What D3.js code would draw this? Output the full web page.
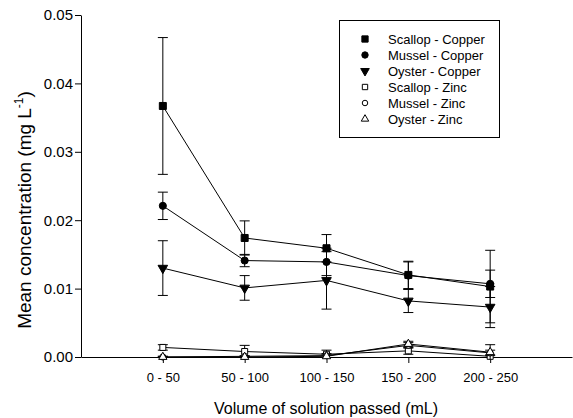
<!DOCTYPE html>
<html><head><meta charset="utf-8">
<script src="https://cdn.jsdelivr.net/npm/d3@7"></script>
<style>body{margin:0;background:#fff}svg{display:block}text{font-family:"Liberation Sans",Arial,sans-serif}</style>
</head><body>
<svg id="c" width="573" height="418"></svg>
<script>
const categories = ["0 - 50", "50 - 100", "100 - 150", "150 - 200", "200 - 250"];
const seriesNames = ["Scallop - Copper", "Mussel - Copper", "Oyster - Copper", "Scallop - Zinc", "Mussel - Zinc", "Oyster - Zinc"];
const scallopCu = [0.0367, 0.0174, 0.0159, 0.0120, 0.0103];
const scallopCuErr = [0.0100, 0.0025, 0.0020, 0.0020, 0.0053];
const musselCu = [0.0221, 0.0141, 0.0139, 0.0119, 0.0107];
const musselCuErr = [0.0020, 0.0009, 0.0020, 0.0020, 0.0020];
const oysterCu = [0.0130, 0.0101, 0.0112, 0.0082, 0.0073];
const oysterCuErr = [0.0040, 0.0018, 0.0042, 0.0017, 0.0030];
const scallopZn = [0.0014, 0.0008, 0.0004, 0.0009, 0.0001];
const scallopZnErr = [0.0004, 0.0009, 0.0006, 0.0005, 0.0002];
const musselZn = [0.0000, 0.0001, 0.0002, 0.0017, 0.0006];
const musselZnErr = [0.0001, 0.0001, 0.0003, 0.0004, 0.0004];
const oysterZn = [0.0000, 0.0000, 0.0001, 0.0019, 0.0007];
const oysterZnErr = [0.0001, 0.0001, 0.0002, 0.0004, 0.0011];
const yTicks = [0, 0.01, 0.02, 0.03, 0.04, 0.05];

const series = [
  {name: seriesNames[3], v: scallopZn, e: scallopZnErr, sym: d3.symbolSquare, fill: "#fff", size: 36},
  {name: seriesNames[4], v: musselZn, e: musselZnErr, sym: d3.symbolCircle, fill: "#fff", size: 30},
  {name: seriesNames[5], v: oysterZn, e: oysterZnErr, sym: d3.symbolTriangle, fill: "#fff", size: 30, rot: 0},
  {name: seriesNames[0], v: scallopCu, e: scallopCuErr, sym: d3.symbolSquare, fill: "#000", size: 49},
  {name: seriesNames[1], v: musselCu, e: musselCuErr, sym: d3.symbolCircle, fill: "#000", size: 40},
  {name: seriesNames[2], v: oysterCu, e: oysterCuErr, sym: d3.symbolTriangle, fill: "#000", size: 40, rot: 180}
];

const svg = d3.select("#c");
const x = d3.scalePoint().domain(["", ...categories, " "]).range([81, 572]);
const y = d3.scaleLinear().domain([0, 0.05]).range([357, 15]);

// axes
const yAxis = svg.append("g").attr("transform", "translate(81,0)")
  .call(d3.axisLeft(y).tickValues(yTicks).tickFormat(d3.format(".2f")).tickSize(6).tickSizeOuter(0));
yAxis.selectAll("text").attr("font-size", 15).attr("x", -8).style("font-family", "Liberation Sans, Arial, sans-serif");
const xAxis = svg.append("g").attr("transform", "translate(0,357)")
  .call(d3.axisBottom(x).tickValues(categories).tickSize(6).tickSizeOuter(0).tickPadding(10));
xAxis.selectAll("text").attr("font-size", 13).style("font-family", "Liberation Sans, Arial, sans-serif");
svg.selectAll(".domain").attr("stroke", "#000");
svg.selectAll(".tick line").attr("stroke", "#000");

// labels
svg.append("text").attr("transform", "translate(31,210) rotate(-90)").attr("text-anchor", "middle")
  .attr("font-size", 19).html('Mean concentration (mg L<tspan dy="-8" font-size="12">-1</tspan><tspan dy="8">)</tspan>');
svg.append("text").attr("x", 326).attr("y", 414).attr("text-anchor", "middle").attr("font-size", 16)
  .text("Volume of solution passed (mL)");

const line = d3.line().x((d, i) => x(categories[i])).y(d => y(d));
series.forEach(s => {
  const g = svg.append("g");
  // error bars
  s.v.forEach((v, i) => {
    const cx = x(categories[i]);
    const t = y(v + s.e[i]), b = y(Math.max(0, v - s.e[i]));
    g.append("line").attr("x1", cx).attr("x2", cx).attr("y1", t).attr("y2", y(v - s.e[i])).attr("stroke", "#000");
    g.append("line").attr("x1", cx - 5).attr("x2", cx + 5).attr("y1", t).attr("y2", t).attr("stroke", "#000");
    if (v - s.e[i] >= 0) g.append("line").attr("x1", cx - 5).attr("x2", cx + 5).attr("y1", b).attr("y2", b).attr("stroke", "#000");
  });
  g.append("path").datum(s.v).attr("d", line).attr("fill", "none").attr("stroke", "#000").attr("stroke-width", 1);
  g.selectAll(".m").data(s.v).enter().append("path")
    .attr("d", d3.symbol().type(s.sym).size(s.size))
    .attr("transform", (d, i) => `translate(${x(categories[i])},${y(d)}) rotate(${s.rot || 0})`)
    .attr("fill", s.fill).attr("stroke", "#000").attr("stroke-width", 1);
});

// legend
const lg = svg.append("g");
lg.append("rect").attr("x", 339.5).attr("y", 20.5).attr("width", 160).attr("height", 117)
  .attr("fill", "#fff").attr("stroke", "#000");
const legendOrder = [3, 4, 5, 0, 1, 2];
legendOrder.forEach((si, k) => {
  const s = series[si];
  const ly = 39 + k * 16;
  lg.append("path").attr("d", d3.symbol().type(s.sym).size(s.size * 0.8))
    .attr("transform", `translate(365,${ly}) rotate(${s.rot || 0})`)
    .attr("fill", s.fill).attr("stroke", "#000");
  lg.append("text").attr("x", 388).attr("y", ly + 5).attr("font-size", 13).text(s.name);
});
</script>
</body></html>
